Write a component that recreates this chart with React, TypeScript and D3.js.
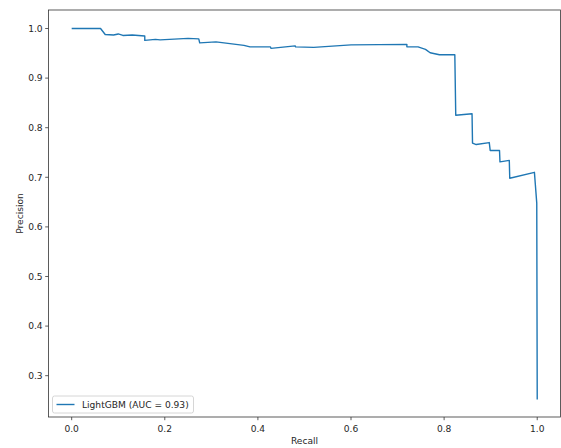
import React from "react";
import * as d3 from "d3";

const recall = [
  0.0, 0.062, 0.072, 0.09, 0.1, 0.11, 0.13, 0.157, 0.157, 0.18, 0.19, 0.21, 0.25,
  0.273, 0.275, 0.31, 0.37, 0.383, 0.427, 0.428, 0.48, 0.481, 0.52, 0.6, 0.72,
  0.72, 0.744, 0.76, 0.77, 0.79, 0.823, 0.825, 0.86, 0.861, 0.869, 0.897, 0.899,
  0.919, 0.92, 0.94, 0.941, 0.994, 0.996, 0.999, 1.0,
];
const precision = [
  1.0, 1.0, 0.988, 0.987, 0.989, 0.986, 0.987, 0.985, 0.976, 0.978, 0.977, 0.978,
  0.98, 0.979, 0.971, 0.973, 0.966, 0.963, 0.963, 0.96, 0.965, 0.963, 0.962, 0.967,
  0.968, 0.963, 0.963, 0.958, 0.951, 0.947, 0.947, 0.825, 0.828, 0.769, 0.766, 0.77,
  0.754, 0.754, 0.731, 0.734, 0.698, 0.71, 0.685, 0.648, 0.252,
];
const xTicks = [0.0, 0.2, 0.4, 0.6, 0.8, 1.0];
const yTicks = [0.3, 0.4, 0.5, 0.6, 0.7, 0.8, 0.9, 1.0];
const seriesLabel = "LightGBM (AUC = 0.93)";
const xLabel = "Recall";
const yLabel = "Precision";

export default function App() {
  const W = 561, H = 448;
  const left = 48.4, right = 560.5, top = 10, bottom = 417;
  const x = d3.scaleLinear().domain([-0.05, 1.05]).range([left, right]);
  const y = d3.scaleLinear().domain([0.2167, 1.0373]).range([bottom, top]);
  const pts = recall.map((r, i) => [r, precision[i]] as [number, number]);
  const line = d3.line<[number, number]>().x(d => x(d[0])).y(d => y(d[1]));
  const font = "DejaVu Sans";
  const fs = 9.1;
  const tc = "#262626";
  return (
    <svg width={W} height={H} style={{ position: "absolute", left: 0, top: 0 }} fontFamily={font}>
      <rect x={0} y={0} width={W} height={H} fill="#fff" />
      <path d={line(pts) || ""} fill="none" stroke="#1f77b4" strokeWidth={1.4} strokeLinejoin="round" />
      <rect x={left} y={top} width={right - left} height={bottom - top} fill="none" stroke="#333" strokeWidth={0.8} />
      {xTicks.map(t => (
        <g key={"x" + t}>
          <line x1={x(t)} x2={x(t)} y1={bottom} y2={bottom + 3.2} stroke="#333" strokeWidth={0.8} />
          <text x={x(t)} y={bottom + 14.5} fontSize={fs} textAnchor="middle" fill={tc}>{t.toFixed(1)}</text>
        </g>
      ))}
      {yTicks.map(t => (
        <g key={"y" + t}>
          <line x1={left - 3.2} x2={left} y1={y(t)} y2={y(t)} stroke="#333" strokeWidth={0.8} />
          <text x={left - 5.8} y={y(t) + 3.3} fontSize={fs} textAnchor="end" fill={tc}>{t.toFixed(1)}</text>
        </g>
      ))}
      <text x={(left + right) / 2} y={443.5} fontSize={fs} textAnchor="middle" fill={tc}>{xLabel}</text>
      <text transform={`translate(22.5, ${(top + bottom) / 2}) rotate(-90)`} fontSize={fs} textAnchor="middle" fill={tc}>{yLabel}</text>
      <g>
        <rect x={52.5} y={396} width={141} height={17} rx={2} fill="#fff" fillOpacity={0.8} stroke="#ccc" strokeWidth={0.8} />
        <line x1={56.5} x2={74.5} y1={404.5} y2={404.5} stroke="#1f77b4" strokeWidth={1.4} />
        <text x={82} y={407.8} fontSize={fs} fill={tc}>{seriesLabel}</text>
      </g>
    </svg>
  );
}
